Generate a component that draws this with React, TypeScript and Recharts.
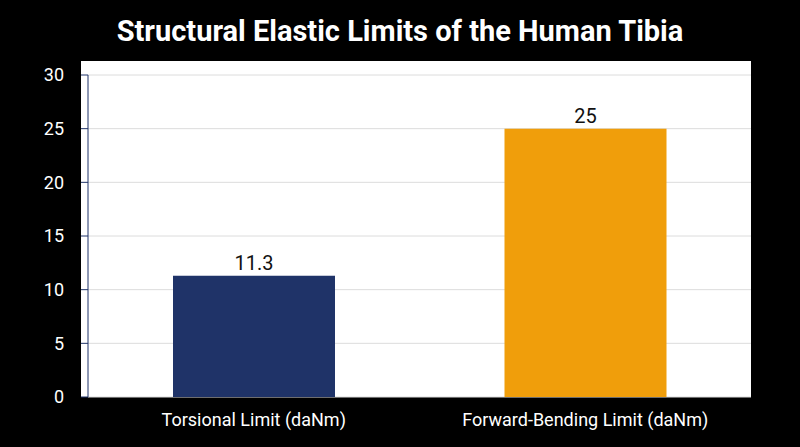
import { BarChart, Bar, XAxis, YAxis, CartesianGrid, Cell, LabelList } from "recharts"

const categories = ["Torsional Limit (daNm)", "Forward-Bending Limit (daNm)"]
const limits = [11.3, 25]
const barColors = ["#1f3368", "#f09e0b"]
const yTicks = [0, 5, 10, 15, 20, 25, 30]

const data = categories.map((name, i) => ({ name, value: limits[i] }))

const font = "Roboto, 'Noto Sans', sans-serif"

export default function App() {
  return (
    <div
      style={{
        position: "fixed",
        left: 0,
        top: 0,
        width: 800,
        height: 447,
        background: "#000",
        fontFamily: font,
      }}
    >
      <div
        style={{
          position: "absolute",
          left: 0,
          top: 12,
          width: 800,
          textAlign: "center",
          color: "#fff",
          fontSize: 29,
          fontWeight: 700,
          lineHeight: "38px",
        }}
      >
        Structural Elastic Limits of the Human Tibia
      </div>
      {/* white panel behind the plot */}
      <div
        style={{
          position: "absolute",
          left: 81,
          top: 61,
          width: 670,
          height: 336,
          background: "#fff",
        }}
      />
      <div style={{ position: "absolute", left: 0, top: 0 }}>
        <BarChart
          width={800}
          height={447}
          data={data}
          margin={{ top: 75, right: 49, bottom: 20, left: 0 }}
        >
          <CartesianGrid vertical={false} stroke="#dcdcdc" />
          <XAxis
            dataKey="name"
            height={30}
            axisLine={false}
            tickLine={false}
            tickSize={0}
            tickMargin={16}
            tick={{ fill: "#fff", fontSize: 18, fontFamily: font }}
          />
          <YAxis
            width={88}
            domain={[0, 30]}
            ticks={yTicks}
            stroke="#1f3368"
            tickSize={7}
            tickMargin={17}
            tick={{ fill: "#fff", fontSize: 18, fontFamily: font }}
          />
          <Bar dataKey="value" barSize={162} isAnimationActive={false}>
            {data.map((d, i) => (
              <Cell key={d.name} fill={barColors[i]} />
            ))}
            <LabelList
              dataKey="value"
              position="top"
              offset={6}
              fill="#111"
              fontSize={20}
              fontFamily={font}
            />
          </Bar>
        </BarChart>
      </div>
    </div>
  )
}
